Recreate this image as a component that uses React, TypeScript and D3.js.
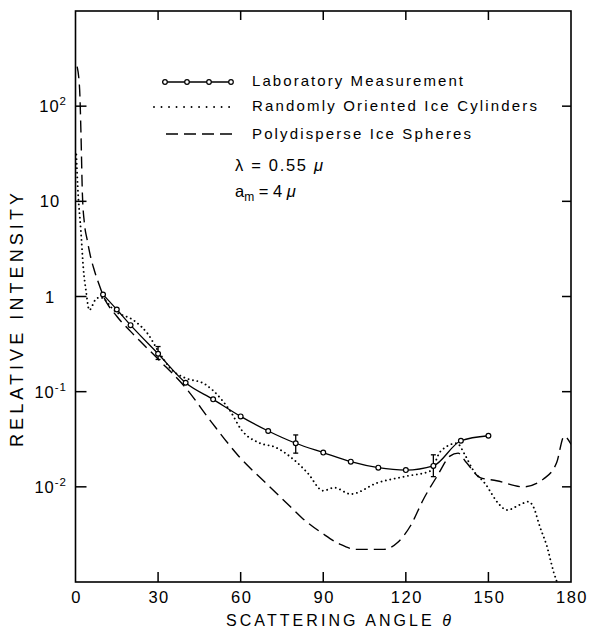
import React from "react";
import * as d3 from "d3";

// ---------- data ----------
const labAngles = [10, 15, 20, 30, 40, 50, 60, 70, 80, 90, 100, 110, 120, 130, 140, 150];
const labValues = [1.05, 0.73, 0.5, 0.25, 0.124, 0.083, 0.055, 0.0386, 0.0287, 0.0229, 0.0184, 0.0159, 0.015, 0.0166, 0.0305, 0.0344];

const errAngles = [30, 80, 130];
const errLow = [0.218, 0.0226, 0.0128];
const errHigh = [0.298, 0.0351, 0.0217];

const cylAngles = [0.3, 0.8, 2.0, 2.8, 3.9, 5.0, 7.3, 9.0, 14.4, 21.6, 26.4, 30, 34.9, 39.7, 47, 53, 56.6, 60.2, 66.7, 72.7, 78.2, 81.8, 84.3, 90, 94, 100, 109.6, 120, 129, 132.5, 138.5, 141.5, 144.5, 148.7, 154, 156.7, 161.5, 164.5, 166.3, 168.7, 171.2, 173.6, 175.4, 176.5];
const cylValues = [31, 14.4, 4.7, 2.07, 1.1, 0.72, 0.93, 0.98, 0.7, 0.55, 0.4, 0.27, 0.17, 0.14, 0.12, 0.083, 0.06, 0.04, 0.029, 0.026, 0.0205, 0.0166, 0.014, 0.0091, 0.0098, 0.0084, 0.011, 0.0129, 0.0147, 0.0234, 0.0287, 0.0216, 0.0149, 0.0109, 0.0065, 0.0057, 0.0065, 0.007, 0.0062, 0.0038, 0.0024, 0.0013, 0.0009, 0.0007];

const sphAngles = [0.6, 1.5, 2.0, 2.5, 3.2, 4.2, 5.5, 6.8, 8.5, 10.2, 15, 20, 30, 40, 49.6, 59.3, 70, 78, 82, 90, 96, 102, 112, 117, 121.7, 126.5, 131.4, 136, 139, 142, 147, 153, 162.7, 170, 174.8, 177.5, 180];
const sphValues = [260, 150, 50, 12, 6, 4.0, 2.6, 1.9, 1.35, 1.0, 0.62, 0.43, 0.22, 0.11, 0.047, 0.021, 0.0104, 0.0062, 0.0048, 0.0032, 0.0025, 0.0022, 0.0022, 0.0026, 0.0039, 0.0075, 0.013, 0.021, 0.0226, 0.018, 0.0125, 0.0116, 0.01, 0.0121, 0.018, 0.034, 0.028];

const xTickValues = [0, 30, 60, 90, 120, 150, 180];
const xTickLabels = ["0", "30", "60", "90", "120", "150", "180"];
const yTickValues = [100, 10, 1, 0.1, 0.01];
const yTickBases = ["10", "10", "1", "10", "10"];
const yTickExps = ["2", "", "", "-1", "-2"];

const legendLabels = ["Laboratory Measurement", "Randomly Oriented Ice Cylinders", "Polydisperse Ice Spheres"];

const FONT = "'Liberation Sans', Arial, sans-serif";

export default function App() {
  const W = 591, H = 632;
  const x = d3.scaleLinear().domain([0, 180]).range([75.5, 571]);
  const y = d3.scaleLog().domain([1e-3, 1e3]).range([582, 11]);
  const [x0, x1] = x.range();
  const [yb, yt] = y.range();

  const mk = (xs: number[], vs: number[]) =>
    d3.line<number>().x((_, i) => x(xs[i])).y((_, i) => y(vs[i])).curve(d3.curveMonotoneX)(vs.map((_, i) => i)) || "";

  const labPath = mk(labAngles, labValues);
  const cylPath = mk(cylAngles, cylValues);
  const sphPath = mk(sphAngles, sphValues);

  const innerTicks = xTickValues.filter((v) => v > 0 && v < 180);

  const legX0 = 162, legX1 = 232, legTextX = 252;
  const legRows = [82, 107, 134];
  const legBase = [86, 111, 139];
  const legLen = [211, 285, 219];

  return (
    <svg width={W} height={H} style={{ position: "absolute", left: 0, top: 0, background: "#fff" }} fontFamily={FONT}>
      <rect x={0} y={0} width={W} height={H} fill="#fff" />
      <defs>
        <clipPath id="plot">
          <rect x={x0} y={yt} width={x1 - x0} height={yb - yt} />
        </clipPath>
      </defs>

      {/* frame */}
      <rect x={x0} y={yt} width={x1 - x0} height={yb - yt} fill="none" stroke="#000" strokeWidth={1.6} />

      {/* x ticks bottom & top */}
      {innerTicks.map((v) => (
        <g key={"xt" + v}>
          <line x1={x(v)} x2={x(v)} y1={yb} y2={yb - 10} stroke="#000" strokeWidth={1.5} />
          <line x1={x(v)} x2={x(v)} y1={yt} y2={yt + 9} stroke="#000" strokeWidth={1.5} />
        </g>
      ))}
      {/* y ticks left & right */}
      {yTickValues.map((v) => (
        <g key={"yt" + v}>
          <line x1={x0} x2={x0 + 11} y1={y(v)} y2={y(v)} stroke="#000" strokeWidth={1.5} />
          <line x1={x1} x2={x1 - 9} y1={y(v)} y2={y(v)} stroke="#000" strokeWidth={1.5} />
        </g>
      ))}

      {/* x tick labels */}
      {xTickValues.map((v, i) => (
        <text key={"xl" + v} x={x(v) + 1} y={603} textAnchor="middle" fontSize={16.5} letterSpacing={1.5}>
          {xTickLabels[i]}
        </text>
      ))}

      {/* y tick labels */}
      {yTickValues.map((v, i) =>
        yTickExps[i] ? (
          <text key={"yl" + v} x={67} y={y(v) + 6} textAnchor="end" fontSize={16.5} letterSpacing={1}>
            {yTickBases[i]}
            <tspan fontSize={11.5} dy={-7}>{yTickExps[i]}</tspan>
          </text>
        ) : (
          <text key={"yl" + v} x={50} y={y(v) + 6} textAnchor="middle" fontSize={16.5} letterSpacing={1}>
            {yTickBases[i]}
          </text>
        )
      )}

      {/* axis titles */}
      <text x={226} y={626} fontSize={16} textLength={225} lengthAdjust="spacing">
        SCATTERING ANGLE <tspan fontStyle="italic">θ</tspan>
      </text>
      <text transform="translate(23,447) rotate(-90)" fontSize={18} textLength={254} lengthAdjust="spacing">
        RELATIVE INTENSITY
      </text>

      {/* curves */}
      <g clipPath="url(#plot)" fill="none" stroke="#000">
        <path d={sphPath} strokeWidth={1.4} strokeDasharray="12 6" />
        <path d={cylPath} strokeWidth={1.9} strokeDasharray="0.01 4.5" strokeLinecap="round" />
        <path d={labPath} strokeWidth={1.3} />
      </g>

      {/* error bars */}
      {errAngles.map((a, i) => (
        <g key={"eb" + a} stroke="#000" strokeWidth={1.3}>
          <line x1={x(a)} x2={x(a)} y1={y(errLow[i])} y2={y(errHigh[i])} />
          <line x1={x(a) - 2.5} x2={x(a) + 2.5} y1={y(errLow[i])} y2={y(errLow[i])} />
          <line x1={x(a) - 2.5} x2={x(a) + 2.5} y1={y(errHigh[i])} y2={y(errHigh[i])} />
        </g>
      ))}

      {/* lab points */}
      {labAngles.map((a, i) => (
        <circle key={"lp" + a} cx={x(a)} cy={y(labValues[i])} r={2.4} fill="#fff" stroke="#000" strokeWidth={1.2} />
      ))}

      {/* legend */}
      <line x1={legX0} x2={legX1} y1={legRows[0]} y2={legRows[0]} stroke="#000" strokeWidth={1.3} />
      {[0, 1 / 3, 2 / 3, 1].map((f) => (
        <circle key={"lc" + f} cx={legX0 + 3 + f * (legX1 - legX0 - 4)} cy={legRows[0]} r={2.3} fill="#fff" stroke="#000" strokeWidth={1.2} />
      ))}
      <line x1={legX0 - 8} x2={legX1} y1={legRows[1]} y2={legRows[1]} stroke="#000" strokeWidth={1.9} strokeDasharray="0.01 7.5" strokeLinecap="round" />
      <line x1={legX0 + 4} x2={legX1} y1={legRows[2]} y2={legRows[2]} stroke="#000" strokeWidth={1.4} strokeDasharray="12 6" />
      {legendLabels.map((t, i) => (
        <text key={t} x={legTextX} y={legBase[i]} fontSize={15} textLength={legLen[i]} lengthAdjust="spacing">
          {t}
        </text>
      ))}

      <text x={235} y={171} fontSize={16.5} textLength={88} lengthAdjust="spacing">
        λ = 0.55 <tspan fontStyle="italic">μ</tspan>
      </text>
      <text x={235} y={197} fontSize={16.5}>
        a<tspan fontSize={12} dy={4}>m</tspan>
        <tspan dy={-4}> = 4 </tspan>
        <tspan fontStyle="italic">μ</tspan>
      </text>
    </svg>
  );
}
